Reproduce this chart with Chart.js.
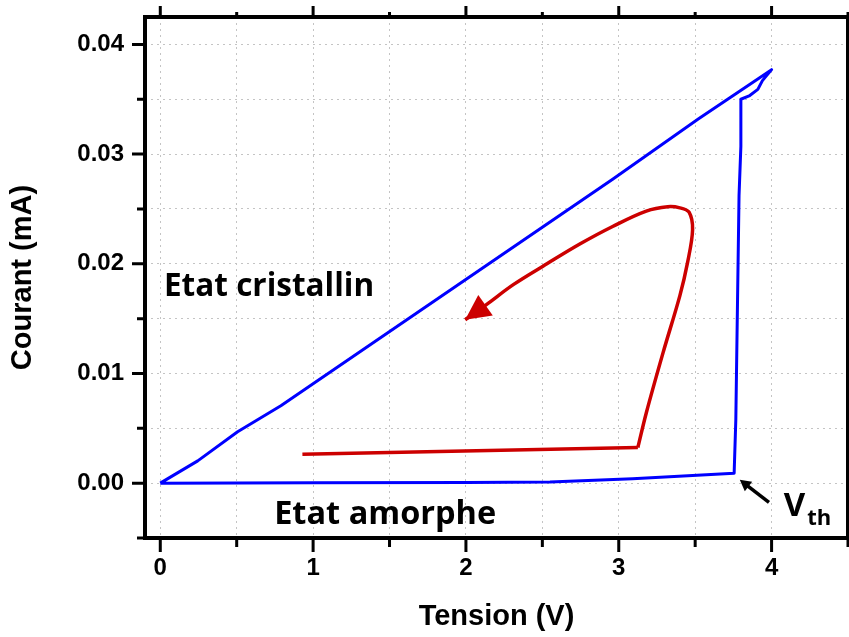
<!DOCTYPE html>
<html>
<head>
<meta charset="utf-8">
<script src="https://cdn.jsdelivr.net/npm/chart.js@4.4.0/dist/chart.umd.min.js"></script>
<style>
  html, body { margin: 0; padding: 0; background: #ffffff; }
  #wrap { width: 849px; height: 637px; }
</style>
</head>
<body>
<div id="wrap"><canvas id="c" width="849" height="637"></canvas></div>
<script>
// Tick labels
const xTickLabels = ['0', '1', '2', '3', '4'];
const yTickLabels = ['0.00', '0.01', '0.02', '0.03', '0.04'];

// Blue sweep: amorphous branch, threshold switch, crystalline return (V, mA)
const blueV = [0, 1.0, 2.0, 2.55, 3.09, 3.755, 3.766, 3.787, 3.799, 3.799, 3.853, 3.91, 3.94, 4.0, 3.52, 2.96, 0.789, 0.506, 0.245, 0];
const blueI = [0, 0.00003, 0.00006, 0.0001, 0.0004, 0.0009, 0.0058, 0.0262, 0.0307, 0.0350, 0.0353, 0.0359, 0.0367, 0.0377, 0.0332, 0.0277, 0.00705, 0.00468, 0.00203, 0];

// Red sweep: flat segment then looping curve ending in an arrow
const redFlatV = [0.93, 3.125];
const redFlatI = [0.00264, 0.00325];
const redCurveV = [3.125, 3.18, 3.29, 3.40, 3.45, 3.483, 3.46, 3.40, 3.32, 3.18, 2.96, 2.745, 2.53, 2.31, 2.136, 1.995];
const redCurveI = [0.00325, 0.0064, 0.0119, 0.0171, 0.0201, 0.0231, 0.0247, 0.0251, 0.0252, 0.0248, 0.0234, 0.0218, 0.0200, 0.0181, 0.0163, 0.0149];

// Text annotations, anchored in data coordinates
const notes = {
  crystal: { text: 'Etat cristallin', v: 0.024, i: 0.01707 },
  amorph: { text: 'Etat amorphe', v: 0.745, i: -0.00374 },
  vth: { main: 'V', sub: 'th', v: 4.08, i: -0.00303 },
  vthArrow: { fromV: 3.983, fromI: -0.00176, toV: 3.792, toI: 0.0003 }
};

const toPts = (xs, ys) => xs.map((x, k) => ({ x: x, y: ys[k] }));
const onStep = (v, step) => Math.abs(v / step - Math.round(v / step)) < 1e-6;

// Ticks on every multiple of the step that lies inside the axis range
const stepTicks = step => scale => {
  const out = [];
  const k0 = Math.ceil(scale.min / step - 1e-9);
  const k1 = Math.floor(scale.max / step + 1e-9);
  for (let k = k0; k <= k1; k++) out.push({ value: +(k * step).toFixed(6) });
  scale.ticks = out;
};
// Keep the plot frame exactly where the layout puts it
const fixBox = (prop, size) => scale => {
  scale[prop] = size;
  scale.paddingTop = scale.paddingBottom = scale.paddingLeft = scale.paddingRight = 0;
};

const BLUE = '#0000ff';
const RED = '#cc0000';
const ANNOT_FONT = '"Open Sans", "DejaVu Sans", sans-serif';

const framePlugin = {
  id: 'frameAndNotes',
  afterDraw(chart) {
    const ctx = chart.ctx;
    const a = chart.chartArea;
    const xs = chart.scales.x;
    const ys = chart.scales.y;

    // arrowhead on the red curve
    const pts = chart.getDatasetMeta(2).data;
    if (pts.length > 1) {
      const tip = pts[pts.length - 1];
      const prev = pts[pts.length - 2];
      let dx = tip.x - prev.x, dy = tip.y - prev.y;
      const len = Math.hypot(dx, dy) || 1;
      dx /= len; dy /= len;
      const L = 25, W = 12.5;
      const bx = tip.x - dx * L, by = tip.y - dy * L;
      ctx.save();
      ctx.fillStyle = RED;
      ctx.beginPath();
      ctx.moveTo(tip.x, tip.y);
      ctx.lineTo(bx - dy * W, by + dx * W);
      ctx.lineTo(bx + dy * W, by - dx * W);
      ctx.closePath();
      ctx.fill();
      ctx.restore();
    }

    // frame
    ctx.save();
    ctx.strokeStyle = '#000';
    ctx.lineWidth = 4;
    ctx.strokeRect(a.left, a.top, a.right - a.left, a.bottom - a.top);

    // outward ticks
    ctx.lineWidth = 3;
    ctx.beginPath();
    xs.ticks.forEach(t => {
      const px = xs.getPixelForValue(t.value);
      const major = onStep(t.value, 1);
      ctx.moveTo(px, a.bottom);
      ctx.lineTo(px, a.bottom + (major ? 14 : 9));
      ctx.moveTo(px, a.top);
      ctx.lineTo(px, a.top - (major ? 11 : 5));
    });
    ys.ticks.forEach(t => {
      const py = ys.getPixelForValue(t.value);
      const major = onStep(t.value, 0.01);
      ctx.moveTo(a.left, py);
      ctx.lineTo(a.left - (major ? 13 : 8), py);
      ctx.moveTo(a.right, py);
      ctx.lineTo(a.right + (major ? 13 : 8), py);
    });
    ctx.stroke();

    // text annotations
    ctx.fillStyle = '#000';
    ctx.textAlign = 'left';
    ctx.textBaseline = 'alphabetic';
    ctx.font = 'bold 31.5px ' + ANNOT_FONT;
    ctx.fillText(notes.crystal.text, xs.getPixelForValue(notes.crystal.v), ys.getPixelForValue(notes.crystal.i));
    ctx.font = 'bold 32.5px ' + ANNOT_FONT;
    ctx.fillText(notes.amorph.text, xs.getPixelForValue(notes.amorph.v), ys.getPixelForValue(notes.amorph.i));

    const vx = xs.getPixelForValue(notes.vth.v);
    const vy = ys.getPixelForValue(notes.vth.i);
    ctx.font = 'bold 33px ' + ANNOT_FONT;
    ctx.fillText(notes.vth.main, vx, vy);
    const vw = ctx.measureText(notes.vth.main).width;
    ctx.font = 'bold 22px ' + ANNOT_FONT;
    ctx.fillText(notes.vth.sub, vx + vw + 2, vy + 9);

    // black pointer towards the threshold
    const ar = notes.vthArrow;
    const fx = xs.getPixelForValue(ar.fromV), fy = ys.getPixelForValue(ar.fromI);
    const tx = xs.getPixelForValue(ar.toV), ty = ys.getPixelForValue(ar.toI);
    let ux = tx - fx, uy = ty - fy;
    const ul = Math.hypot(ux, uy) || 1;
    ux /= ul; uy /= ul;
    const HL = 11, HW = 6;
    const hbx = tx - ux * HL, hby = ty - uy * HL;
    ctx.strokeStyle = '#000';
    ctx.lineWidth = 3.5;
    ctx.beginPath();
    ctx.moveTo(fx, fy);
    ctx.lineTo(hbx + ux * 2, hby + uy * 2);
    ctx.stroke();
    ctx.beginPath();
    ctx.moveTo(tx, ty);
    ctx.lineTo(hbx - uy * HW, hby + ux * HW);
    ctx.lineTo(hbx + uy * HW, hby - ux * HW);
    ctx.closePath();
    ctx.fill();
    ctx.restore();
  }
};

const tickFont = { family: '"Liberation Sans", Arial, sans-serif', size: 24, weight: 'bold' };
const titleFont = { family: '"Liberation Sans", Arial, sans-serif', size: 29, weight: 'bold' };

new Chart(document.getElementById('c'), {
  type: 'scatter',
  data: {
    datasets: [
      {
        label: 'balayage bleu',
        data: toPts(blueV, blueI),
        showLine: true,
        borderColor: BLUE,
        borderWidth: 3,
        pointRadius: 0,
        tension: 0,
        borderJoinStyle: 'round'
      },
      {
        label: 'balayage rouge (plat)',
        data: toPts(redFlatV, redFlatI),
        showLine: true,
        borderColor: RED,
        borderWidth: 3.5,
        pointRadius: 0,
        tension: 0
      },
      {
        label: 'balayage rouge (boucle)',
        data: toPts(redCurveV, redCurveI),
        showLine: true,
        borderColor: RED,
        borderWidth: 3.5,
        pointRadius: 0,
        tension: 0.35,
        borderJoinStyle: 'round'
      }
    ]
  },
  options: {
    responsive: false,
    animation: false,
    devicePixelRatio: 1,
    layout: { autoPadding: false, padding: { top: 17, right: 1, left: 0, bottom: 0 } },
    plugins: { legend: { display: false }, tooltip: { enabled: false } },
    scales: {
      x: {
        type: 'linear',
        min: -0.1,
        max: 4.5,
        afterBuildTicks: stepTicks(0.5),
        afterFit: fixBox('height', 99),
        grid: { color: '#c4c4c4', lineWidth: 1, drawTicks: false },
        border: { display: false, dash: [2, 4] },
        ticks: {
          autoSkip: false,
          maxRotation: 0,
          padding: 16,
          color: '#000',
          font: tickFont,
          callback: v => onStep(v, 1) ? (xTickLabels[Math.round(v)] ?? '') : ''
        },
        title: { display: true, text: 'Tension (V)', color: '#000', font: titleFont, padding: { top: 0, bottom: 3 } }
      },
      y: {
        type: 'linear',
        min: -0.005,
        max: 0.0425,
        afterBuildTicks: stepTicks(0.005),
        afterFit: fixBox('width', 145),
        grid: { color: '#c4c4c4', lineWidth: 1, drawTicks: false },
        border: { display: false, dash: [2, 4] },
        ticks: {
          autoSkip: false,
          padding: 21,
          color: '#000',
          font: tickFont,
          callback: v => {
            if (!onStep(v, 0.01) || v < -1e-9) return '';
            return yTickLabels[Math.round(v / 0.01)] ?? '';
          }
        },
        title: { display: true, text: 'Courant (mA)', color: '#000', font: titleFont, padding: { top: 6, bottom: 0 } }
      }
    }
  },
  plugins: [framePlugin]
});
</script>
</body>
</html>
